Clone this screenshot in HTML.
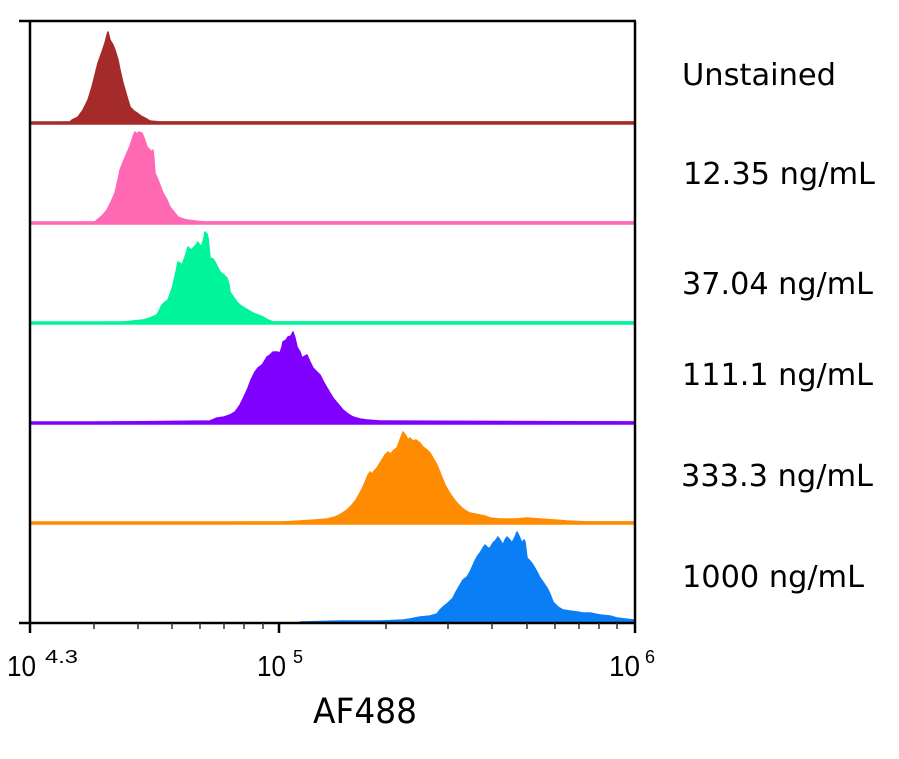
<!DOCTYPE html>
<html>
<head>
<meta charset="utf-8">
<style>
html,body{margin:0;padding:0;background:#fff;}
svg{display:block;}
</style>
</head>
<body>
<svg width="899" height="759" viewBox="0 0 899 759" xmlns="http://www.w3.org/2000/svg">
<rect x="0" y="0" width="899" height="759" fill="#fff"/>

<!-- Row 1: Unstained -->
<path fill="#a52a2a" stroke="#a52a2a" stroke-width="1.5" stroke-linejoin="round" d="M30,123 L70,122 L72,120 L78,117 L83,110 L88,100 L92,87 L95,75 L98,63 L102,52 L105,43 L107,35 L108,32 L109,36 L110,40 L113,45 L115,50 L118,60 L120,70 L123,83 L127,97 L130,107 L134,111 L137,113 L141,116 L145,118 L150,121 L160,122 L634,122 L634,124 L30,124 Z"/>
<line x1="30" y1="122.5" x2="634" y2="122.5" stroke="#a52a2a" stroke-width="2.5"/>

<!-- Row 2: 12.35 -->
<path fill="#ff69b4" stroke="#ff69b4" stroke-width="1.5" stroke-linejoin="round" d="M30,223 L95,222 L97,220 L102,216 L107,210 L111,202 L115,193 L118,180 L120,170 L124,160 L127,153 L130,146 L132,140 L134,134 L135,132 L137,134 L139,132 L141,133 L142,133 L144,138 L147,147 L150,150 L152,152 L153,150 L154,160 L155,173 L158,180 L163,193 L167,200 L170,207 L174,212 L178,217 L183,219 L187,220 L195,221 L205,222 L634,222 L634,224 L30,224 Z"/>
<line x1="30" y1="222.5" x2="634" y2="222.5" stroke="#ff69b4" stroke-width="2.5"/>

<!-- Row 3: 37.04 -->
<path fill="#00f59a" stroke="#00f59a" stroke-width="1.5" stroke-linejoin="round" d="M30,323 L123,322 L133,321 L143,320 L150,318 L157,315 L162,305 L165,302 L168,300 L171,292 L173,285 L176,272 L178,262 L180,263 L182,265 L185,257 L188,247 L191,250 L193,248 L196,245 L198,242 L200,246 L202,245 L204,238 L205,232 L207,234 L208,238 L210,258 L213,259 L215,262 L218,268 L220,272 L224,275 L227,278 L229,285 L230,292 L234,298 L237,302 L240,305 L243,307 L248,310 L253,313 L258,315 L263,317 L268,320 L273,322 L634,322 L634,324 L30,324 Z"/>
<line x1="30" y1="322.5" x2="634" y2="322.5" stroke="#00f59a" stroke-width="2.5"/>

<!-- Row 4: 111.1 -->
<path fill="#8000ff" stroke="#8000ff" stroke-width="1.5" stroke-linejoin="round" d="M30,423 L210,421 L217,418 L224,417 L230,415 L235,412 L240,405 L244,397 L248,388 L251,380 L255,372 L258,368 L262,365 L264,362 L267,357 L270,355 L273,352 L277,352 L280,353 L282,347 L283,342 L286,340 L288,337 L291,336 L293,332 L295,338 L297,347 L300,352 L302,358 L305,356 L307,355 L310,362 L313,368 L317,372 L320,375 L323,381 L327,388 L330,393 L333,398 L338,404 L343,410 L348,414 L353,417 L360,419 L367,420 L380,421 L634,422 L634,424 L30,424 Z"/>
<line x1="30" y1="422.5" x2="634" y2="422.5" stroke="#8000ff" stroke-width="2.5"/>

<!-- Row 5: 333.3 -->
<path fill="#ff8c00" stroke="#ff8c00" stroke-width="1.5" stroke-linejoin="round" d="M30,523 L283,522 L300,521 L315,520 L327,519 L335,517 L341,514 L347,510 L352,505 L356,500 L360,493 L363,487 L366,480 L368,475 L370,472 L372,474 L375,470 L377,468 L380,463 L382,460 L385,455 L388,452 L391,454 L394,450 L397,448 L400,440 L403,432 L406,436 L408,440 L410,438 L413,441 L416,440 L420,443 L423,447 L427,450 L430,453 L433,458 L437,465 L441,475 L445,485 L449,492 L453,498 L457,503 L462,508 L466,511 L470,513 L475,514 L480,515 L485,516 L490,518 L500,519 L515,519 L527,518 L540,519 L555,520 L567,521 L590,522 L634,522 L634,524 L30,524 Z"/>
<line x1="30" y1="522.5" x2="634" y2="522.5" stroke="#ff8c00" stroke-width="2.5"/>

<!-- Row 6: 1000 -->
<path fill="#0a7ff5" stroke="#0a7ff5" stroke-width="1.5" stroke-linejoin="round" d="M300,622 L340,621 L380,621 L403,620 L410,619 L420,617 L430,616 L437,614 L440,610 L443,607 L448,603 L453,598 L456,592 L460,585 L463,580 L467,577 L470,572 L474,563 L477,557 L480,553 L483,548 L485,545 L488,548 L490,548 L493,543 L496,540 L498,537 L500,540 L503,545 L505,540 L507,537 L510,540 L512,543 L515,537 L517,532 L519,536 L522,543 L524,540 L525,542 L527,558 L530,561 L533,565 L537,572 L540,578 L543,582 L547,588 L550,594 L553,602 L558,607 L563,610 L570,611 L577,612 L583,613 L590,613 L600,615 L610,616 L617,618 L625,619 L634,620 L634,623 L300,623 Z"/>

<!-- Axes -->
<g stroke="#000" fill="none">
  <line x1="19" y1="21" x2="636" y2="21" stroke-width="2.5"/>
  <line x1="30" y1="21" x2="30" y2="633" stroke-width="2.5"/>
  <line x1="635" y1="21" x2="635" y2="633" stroke-width="2.5"/>
  <line x1="19" y1="623" x2="636" y2="623" stroke-width="2.5"/>
  <line x1="279" y1="623" x2="279" y2="633" stroke-width="2.5"/>
  <g stroke-width="1.5" stroke="#333">
    <line x1="94" y1="623" x2="94" y2="629"/>
    <line x1="138" y1="623" x2="138" y2="629"/>
    <line x1="172" y1="623" x2="172" y2="629"/>
    <line x1="200" y1="623" x2="200" y2="629"/>
    <line x1="224" y1="623" x2="224" y2="629"/>
    <line x1="244" y1="623" x2="244" y2="629"/>
    <line x1="263" y1="623" x2="263" y2="629"/>
    <line x1="386" y1="623" x2="386" y2="629"/>
    <line x1="448" y1="623" x2="448" y2="629"/>
    <line x1="492" y1="623" x2="492" y2="629"/>
    <line x1="527" y1="623" x2="527" y2="629"/>
    <line x1="555" y1="623" x2="555" y2="629"/>
    <line x1="579" y1="623" x2="579" y2="629"/>
    <line x1="599" y1="623" x2="599" y2="629"/>
    <line x1="617" y1="623" x2="617" y2="629"/>
  </g>
</g>

<!-- Tick labels -->
<g font-family="'Liberation Sans', Arial, sans-serif" fill="#000">
  <text x="7" y="676" font-size="29" textLength="29" lengthAdjust="spacingAndGlyphs">10</text>
  <text x="45" y="663" font-size="18" textLength="33" lengthAdjust="spacingAndGlyphs">4.3</text>
  <text x="257" y="676" font-size="29" textLength="29" lengthAdjust="spacingAndGlyphs">10</text>
  <text x="293" y="663" font-size="18">5</text>
  <text x="609" y="676" font-size="29" textLength="31" lengthAdjust="spacingAndGlyphs">10</text>
  <text x="645" y="663" font-size="18">6</text>
</g>

<!-- Axis title -->
<text x="313" y="723" font-family="'DejaVu Sans', 'Liberation Sans', sans-serif" font-size="35" textLength="104" lengthAdjust="spacingAndGlyphs" fill="#000">AF488</text>

<!-- Row labels -->
<g font-family="'DejaVu Sans', 'Liberation Sans', sans-serif" font-size="30" fill="#000">
  <text x="682" y="85" textLength="154" lengthAdjust="spacingAndGlyphs">Unstained</text>
  <text x="683" y="184" textLength="192" lengthAdjust="spacingAndGlyphs">12.35 ng/mL</text>
  <text x="682" y="294" textLength="191" lengthAdjust="spacingAndGlyphs">37.04 ng/mL</text>
  <text x="682" y="385" textLength="191" lengthAdjust="spacingAndGlyphs">111.1 ng/mL</text>
  <text x="681" y="486" textLength="192" lengthAdjust="spacingAndGlyphs">333.3 ng/mL</text>
  <text x="682" y="587" textLength="182" lengthAdjust="spacingAndGlyphs">1000 ng/mL</text>
</g>
</svg>
</body>
</html>
